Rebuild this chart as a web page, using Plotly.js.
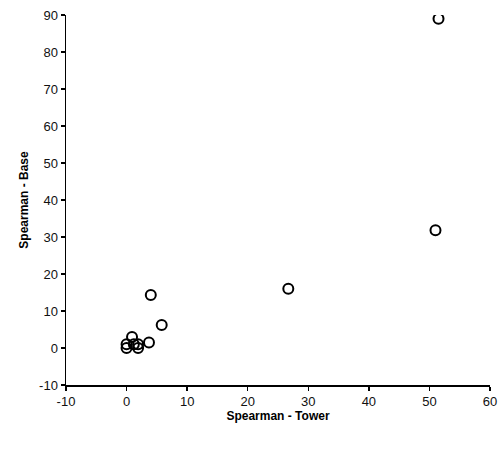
<!DOCTYPE html>
<html>
<head>
<meta charset="utf-8">
<script src="https://cdn.plot.ly/plotly-3.0.1.min.js"></script>
<style>html,body{margin:0;padding:0;background:#fff;}#chart{width:499px;height:449px;}</style>
</head>
<body>
<div id="chart"></div>
<script>
const towerX = [51.5, 51, 26.7, 4, 5.8, 3.7, 0.9, 0, 0, 1.2, 1.9, 1.9];
const baseY = [89, 31.8, 16, 14.3, 6.2, 1.5, 3, 1, 0, 1, 1, 0];
const xTicks = [-10, 0, 10, 20, 30, 40, 50, 60];
const yTicks = [-10, 0, 10, 20, 30, 40, 50, 60, 70, 80, 90];

const trace = {
  x: towerX, y: baseY, type: 'scatter', mode: 'markers',
  marker: {symbol: 'circle-open', size: 10, color: '#000', line: {width: 2, color: '#000'}},
  hoverinfo: 'x+y'
};
const axisCommon = {
  showgrid: false, zeroline: false, showline: true, linecolor: '#000', linewidth: 1.5,
  ticks: 'outside', ticklen: 4, tickwidth: 1.5, tickcolor: '#000',
  tickfont: {family: 'Arial, Liberation Sans, sans-serif', size: 13, color: '#111'}
};
const layout = {
  width: 499, height: 449,
  margin: {l: 66, r: 9, t: 15, b: 64},
  paper_bgcolor: '#fff', plot_bgcolor: '#fff',
  showlegend: false,
  xaxis: Object.assign({}, axisCommon, {
    range: [-10, 60], tickvals: xTicks, ticktext: xTicks.map(String),
    title: {text: '<b>Spearman - Tower</b>', font: {family: 'Arial, Liberation Sans, sans-serif', size: 12, color: '#000'}, standoff: 3}
  }),
  yaxis: Object.assign({}, axisCommon, {
    range: [-10, 90], tickvals: yTicks, ticktext: yTicks.map(String),
    title: {text: '<b>Spearman - Base</b>', font: {family: 'Arial, Liberation Sans, sans-serif', size: 12, color: '#000'}, standoff: 8}
  })
};
Plotly.newPlot('chart', [trace], layout, {displayModeBar: false, staticPlot: true});
</script>
</body>
</html>
